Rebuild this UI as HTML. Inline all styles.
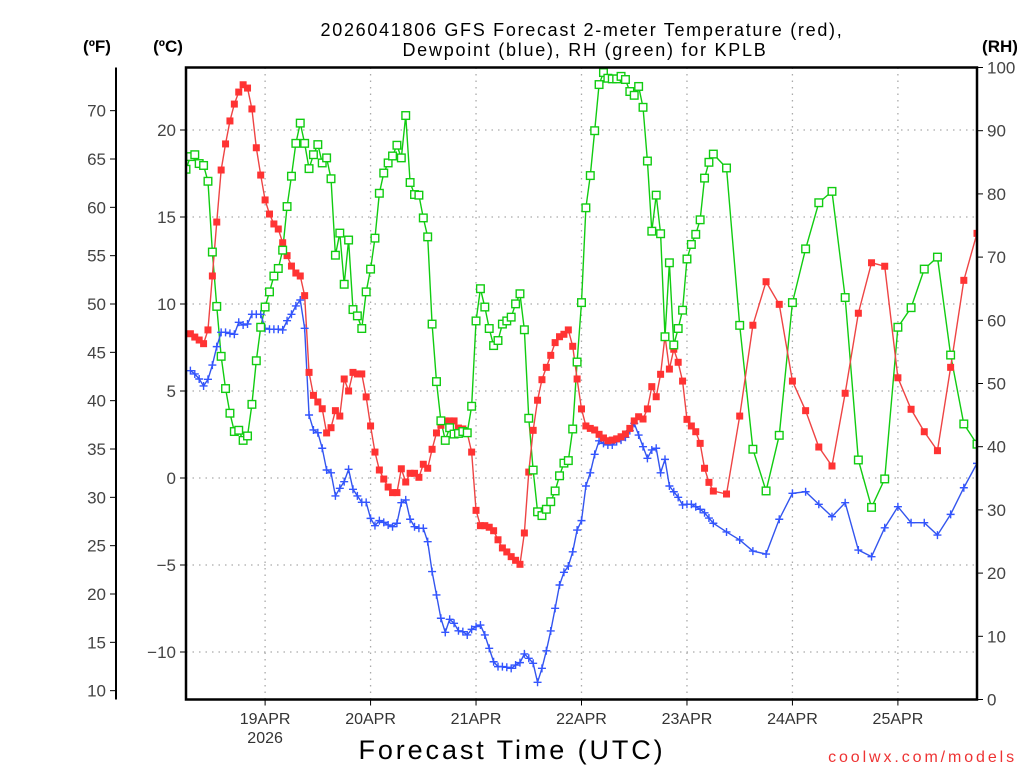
<!DOCTYPE html>
<html><head><meta charset="utf-8"><style>
html,body{margin:0;padding:0;background:#fff;}
svg{display:block;font-family:"Liberation Sans",sans-serif;}
</style></head><body>
<svg id="chart" width="1024" height="768" viewBox="0 0 1024 768" xmlns="http://www.w3.org/2000/svg">
<rect width="1024" height="768" fill="#fff"/>
<text x="582" y="36" text-anchor="middle" font-size="18" fill="#000" letter-spacing="1.7">2026041806 GFS Forecast 2-meter Temperature (red),</text>
<text x="585" y="56" text-anchor="middle" font-size="18" fill="#000" letter-spacing="1.75">Dewpoint (blue), RH (green) for KPLB</text>
<text x="97" y="52" text-anchor="middle" font-size="17" font-weight="bold">(ºF)</text>
<text x="168" y="52" text-anchor="middle" font-size="17" font-weight="bold">(ºC)</text>
<text x="1000" y="52" text-anchor="middle" font-size="17" font-weight="bold">(RH)</text>
<text x="512" y="759" text-anchor="middle" font-size="27" letter-spacing="2.9">Forecast Time (UTC)</text>
<text x="1017" y="762" text-anchor="end" font-size="16" fill="#ee3333" letter-spacing="2.9">coolwx.com/models</text>
<g id="grid"></g><g id="axes"></g><g id="series"></g>
<rect x="186" y="67.5" width="791" height="632" fill="none" stroke="#000" stroke-width="2.5"/>
</svg>
<script>
// ---- data ----
const dayTicks = [24, 48, 72, 96, 120, 144, 168];
const dayLabels = ["19APR", "20APR", "21APR", "22APR", "23APR", "24APR", "25APR"];
const celsiusTicks = [-10, -5, 0, 5, 10, 15, 20];
const fahrenheitTicks = [10, 15, 20, 25, 30, 35, 40, 45, 50, 55, 60, 65, 70];
const rhTicks = [0, 10, 20, 30, 40, 50, 60, 70, 80, 90, 100];
const tempHourlyStart = 7;
const tempHourly = [8.29,8.10,7.93,7.72,8.51,11.61,14.71,17.70,19.20,20.52,21.49,22.18,22.6,22.41,21.21,18.98,17.41,15.98,15.17,14.6,14.31,13.52,12.78,12.18,11.78,11.61,10.48,6.07,4.75,4.37,3.98,2.59,2.89,3.87,3.56,5.69,5.0,6.07,5.98,5.98,4.66,2.99,1.49,0.46,-0.06,-0.52,-0.84,-0.84,0.53,-0.23,0.27,0.27,0.04,0.79,0.56,1.65,2.59,3.03,3.28,3.28,3.28,2.87,2.82,2.59,1.49,-1.86,-2.74,-2.74,-2.83,-3.03,-3.55,-4.02,-4.25,-4.52,-4.73,-4.96,-3.16,0.34,2.74,4.47,5.65,6.36,7.05,7.78,8.12,8.26,8.51,7.57,5.69,3.97,
2.99,2.85,2.76,2.51,2.3,2.14,2.18,2.25,2.37,2.53,2.85,3.28,3.52,3.39,3.97,5.25,4.67,5.96,8.16,6.26,7.4,6.65,5.57,3.37,2.99,2.66,1.99,0.56,-0.25,-0.75];
const dewHourlyStart = 7;
const dewHourly = [6.17,5.98,5.69,5.29,5.67,6.49,7.55,8.37,8.37,8.31,8.26,8.95,8.79,8.85,9.41,9.41,9.41,8.6,8.55,8.55,8.55,8.51,9.04,9.41,9.89,10.23,8.6,3.62,2.76,2.6,1.71,0.46,0.3,-1.03,-0.59,-0.21,0.5,-0.65,-1.03,-1.4,-1.4,-2.32,-2.74,-2.45,-2.55,-2.7,-2.8,-2.6,-1.42,-1.26,-2.37,-2.8,-2.89,-2.89,-3.66,-5.38,-6.72,-8.06,-8.87,-8.12,-8.35,-8.78,-8.83,-9.02,-8.7,-8.54,-8.45,-9.02,-9.79,-10.56,-10.84,-10.84,-10.88,-10.94,-10.75,-10.61,-10.11,-10.36,-10.65,-11.74,-10.94,-9.93,-8.79,-7.49,-6.15,-5.42,-5.06,-4.24,-2.99,-2.45,
-0.46,0.3,1.36,2.14,1.99,1.9,1.9,2.09,2.18,2.34,2.72,3.14,2.47,1.8,1.13,1.61,1.71,0.3,1.07,-0.46,-0.79,-1.11,-1.55,-1.51,-1.51,-1.65,-1.8,-2.0,-2.3,-2.6];
const rhHourlyStart = 6;
const rhHourly = [83.9,85.9,86.2,84.8,84.5,82.0,70.8,62.2,54.3,49.2,45.3,42.4,42.6,41.0,41.7,46.7,53.6,58.9,62.1,64.5,67.0,68.2,71.1,78.0,82.8,88.0,91.2,88.0,84.0,86.2,87.8,84.9,85.7,82.4,70.3,73.8,65.7,72.7,61.7,60.7,58.7,64.5,68.1,73.0,80.1,83.3,84.9,86.0,87.7,85.7,92.4,81.8,79.9,79.8,76.2,73.2,59.4,50.3,44.1,41.0,43.0,42.0,42.1,42.4,42.2,46.4,59.9,65.0,62.1,58.7,56.0,56.8,59.4,59.9,60.5,62.6,64.2,58.5,44.5,36.3,29.7,29.1,30.1,31.3,33.0,35.4,37.4,37.8,42.8,53.4,62.8,
77.8,82.9,90.0,97.3,99.2,98.3,98.2,98.2,98.6,98.1,96.2,95.6,97.0,93.7,85.2,74.1,79.8,73.7,57.4,69.1,56.1,58.7,61.6,69.7,72.0,73.6,75.9,82.5,85.0,86.3];
const threeHourly = [129,132,135,138,141,144,147,150,153,156,159,162,165,168,171,174,177,180,183,186];
const temp3h = [-0.92,3.56,8.78,11.28,9.98,5.57,3.87,1.78,0.69,4.87,9.47,12.37,12.17,5.76,3.95,2.66,1.57,6.36,11.36,14.06];
const dew3h = [-3.1,-3.56,-4.2,-4.37,-2.37,-0.88,-0.79,-1.51,-2.22,-1.42,-4.14,-4.52,-2.86,-1.65,-2.57,-2.57,-3.28,-2.09,-0.56,0.84];
const rh3h = [84.1,59.2,39.6,33.0,41.8,62.8,71.3,78.6,80.4,63.6,37.9,30.4,34.9,58.9,62.0,68.1,70.0,54.5,43.6,40.4];

// ---- scales ----
const L=186,R=977,T=67.5,B=699.5,H0=6,H1=186;
const xS=h=>L+(h-H0)*(R-L)/(H1-H0);
const yC=c=>478-17.4*c;
const yF=f=>yC((f-32)/1.8);
const yRH=r=>B-r*(B-T)/100;
const NS="http://www.w3.org/2000/svg";
function mk(tag,attrs,parent){const e=document.createElementNS(NS,tag);for(const k in attrs)e.setAttribute(k,attrs[k]);parent.appendChild(e);return e;}
const grid=document.getElementById('grid'),axes=document.getElementById('axes'),ser=document.getElementById('series');

dayTicks.forEach((h,i)=>{
  const x=xS(h);
  const g=mk('line',{x1:x,x2:x,y1:T,y2:B,stroke:'#aaa','stroke-width':1.3,'stroke-dasharray':'1.5,5'},grid);
  
  
  const t=mk('line',{x1:x,x2:x,y1:B,y2:B+6,stroke:'#000','stroke-width':1},axes);
  
  
  const lb=mk('text',{x:x,y:724,'text-anchor':'middle','font-size':16,fill:'#333'},axes);
  lb.textContent=dayLabels[i];
  
  
});
const yr=mk('text',{x:xS(24),y:743,'text-anchor':'middle','font-size':16,fill:'#333'},axes);
yr.textContent='2026';



celsiusTicks.forEach(c=>{
  const y=yC(c);
  const g=mk('line',{x1:L,x2:R,y1:y,y2:y,stroke:'#aaa','stroke-width':1.3,'stroke-dasharray':'1.5,5'},grid);
  
  
  const t=mk('line',{x1:L-6,x2:L,y1:y,y2:y,stroke:'#000','stroke-width':1},axes);
  
  
  const lb=mk('text',{x:L-10,y:y+6,'text-anchor':'end','font-size':17,fill:'#444'},axes);
  lb.textContent=c<0?'\u2212'+Math.abs(c):String(c);
  
  
});
const fl=mk('line',{x1:116,x2:116,y1:T,y2:B,stroke:'#000','stroke-width':2},axes);


fahrenheitTicks.forEach(f=>{
  const y=yF(f);
  const t=mk('line',{x1:110,x2:116,y1:y,y2:y,stroke:'#000','stroke-width':1},axes);
  
  
  const lb=mk('text',{x:106,y:y+6,'text-anchor':'end','font-size':17,fill:'#444'},axes);
  lb.textContent=String(f);
  
  
});
rhTicks.forEach(r=>{
  const y=yRH(r);
  const t=mk('line',{x1:R,x2:R+6,y1:y,y2:y,stroke:'#000','stroke-width':1},axes);
  
  
  const lb=mk('text',{x:R+10,y:y+6,'text-anchor':'start','font-size':17,fill:'#444'},axes);
  lb.textContent=String(r);
  
  
});

function build(start,hourly,hours3,vals3,yfn){
  const pts=[];
  hourly.forEach((v,i)=>pts.push([xS(start+i),yfn(v)]));
  hours3.forEach((h,i)=>pts.push([xS(h),yfn(vals3[i])]));
  return pts;
}
const clip=mk('clipPath',{id:'pc'},ser);
mk('rect',{x:L,y:T,width:R-L,height:B-T},clip);
const sg=mk('g',{'clip-path':'url(#pc)'},ser);

const rhPts=build(rhHourlyStart,rhHourly,threeHourly,rh3h,yRH);
const tPts=build(tempHourlyStart,tempHourly,threeHourly,temp3h,yC);
const dPts=build(dewHourlyStart,dewHourly,threeHourly,dew3h,yC);

const rl=mk('polyline',{points:rhPts.map(p=>p.join(',')).join(' '),fill:'none',stroke:'#11cc11','stroke-width':1.4},sg);


const tl=mk('polyline',{points:tPts.map(p=>p.join(',')).join(' '),fill:'none',stroke:'#ee4444','stroke-width':1.4},sg);


const dl=mk('polyline',{points:dPts.map(p=>p.join(',')).join(' '),fill:'none',stroke:'#3355ee','stroke-width':1.4},sg);



dPts.forEach(p=>{
  const m=mk('path',{d:`M${p[0]-4},${p[1]}h8M${p[0]},${p[1]-4}v8`,stroke:'#3355ff','stroke-width':1.4},sg);
  
  
});
tPts.forEach(p=>{
  const m=mk('rect',{x:p[0]-3.5,y:p[1]-3.5,width:7,height:7,fill:'#f33'},sg);
  
  
});
rhPts.forEach(p=>{
  const m=mk('rect',{x:p[0]-3.8,y:p[1]-3.8,width:7.6,height:7.6,fill:'#fff',stroke:'#11cc11','stroke-width':1.4},sg);
  
  
});
</script>
</body></html>
